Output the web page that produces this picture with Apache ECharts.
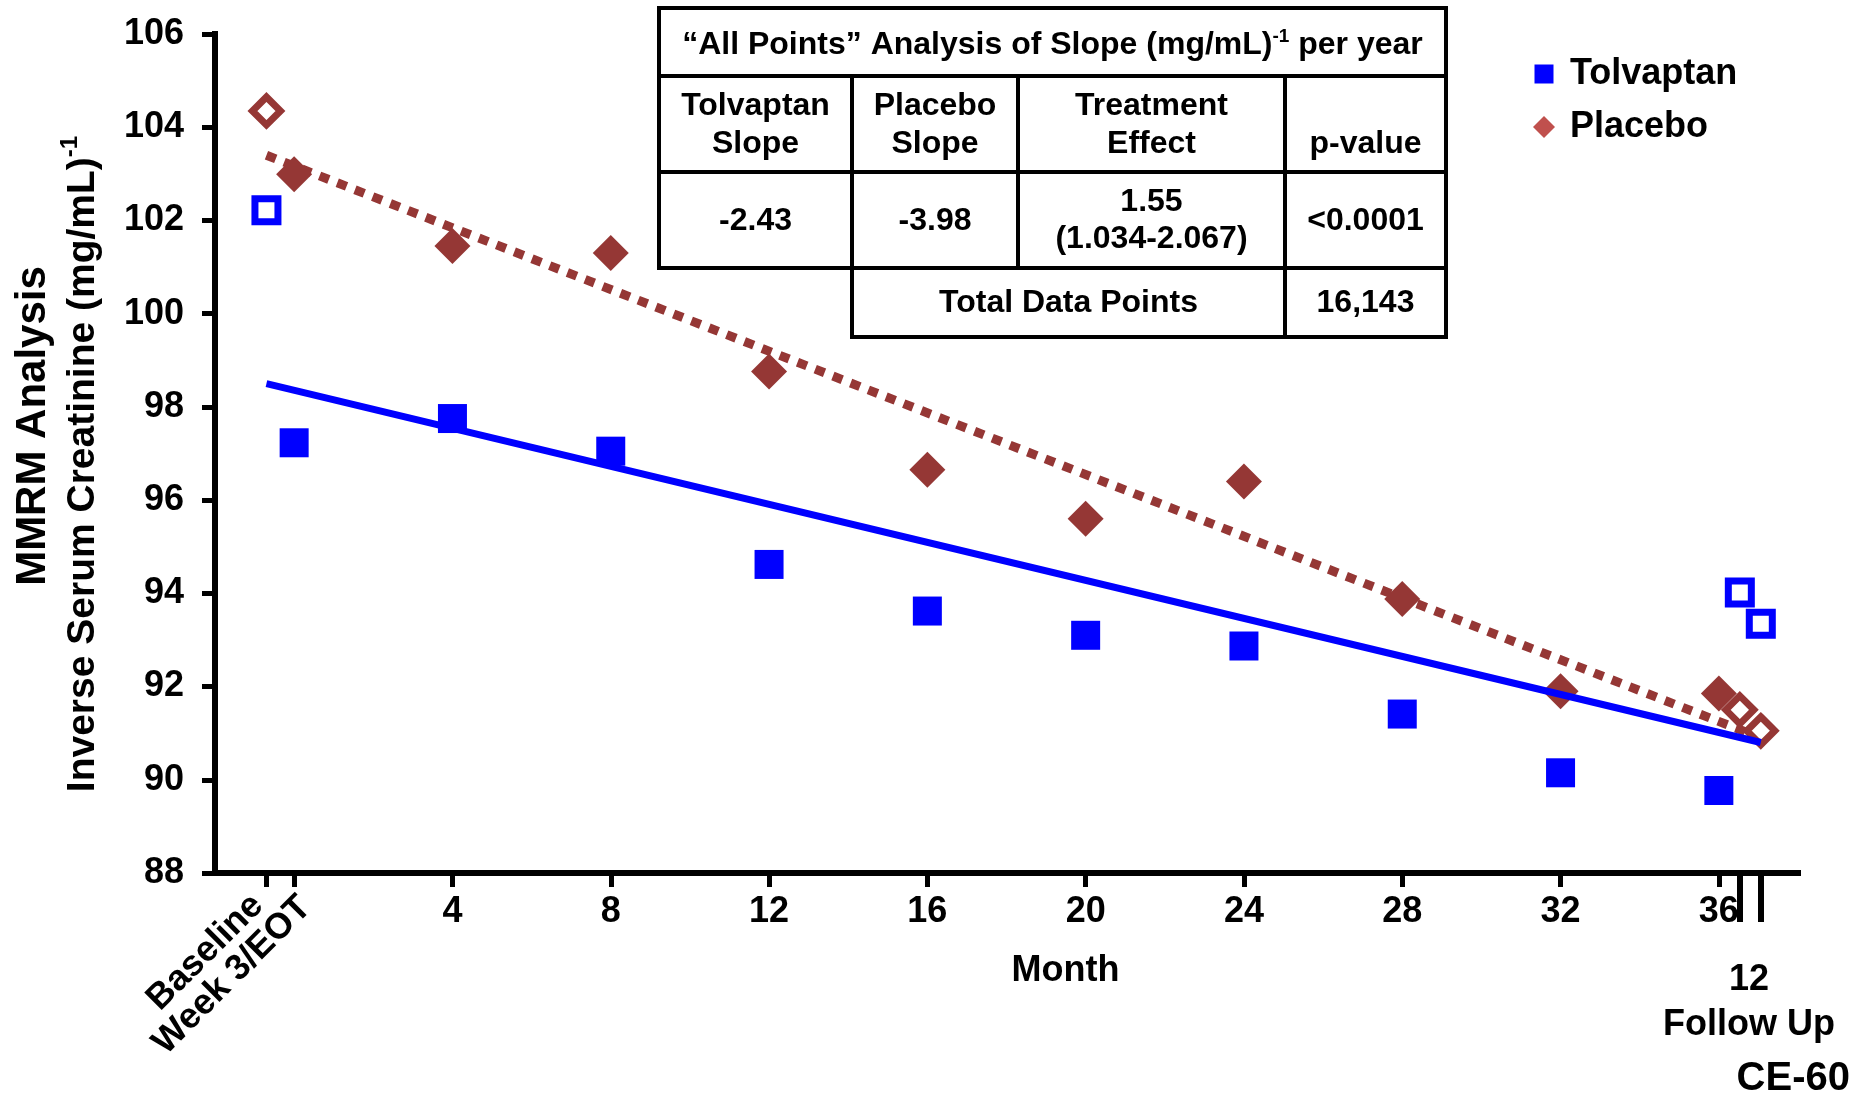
<!DOCTYPE html>
<html>
<head>
<meta charset="utf-8">
<script src="https://cdn.jsdelivr.net/npm/echarts@6/dist/echarts.min.js"></script>
<style>
html,body{margin:0;padding:0;background:#fff;}
#chart{width:1874px;height:1094px;}
</style>
</head>
<body>
<div id="chart"></div>
<script>
// ---------- data ----------
const monthTicks = [4, 8, 12, 16, 20, 24, 28, 32, 36];
const startTicks = [-0.7, 0];
const startLabels = ['Baseline', 'Week 3/EOT'];
const followUpTicks = [36.53, 37.06];
const followUpLabel = '12\nFollow Up';

const tolvaptanMonths = [0, 4, 8, 12, 16, 20, 24, 28, 32, 36];
const tolvaptanValues = [97.23, 97.75, 97.05, 94.62, 93.62, 93.10, 92.87, 91.41, 90.15, 89.77];
const tolvaptanOpenMonths = [-0.7, 36.53, 37.06];
const tolvaptanOpenValues = [102.22, 94.02, 93.35];

const placeboMonths = [0, 4, 8, 12, 16, 20, 24, 28, 32, 36];
const placeboValues = [102.99, 101.45, 101.30, 98.76, 96.65, 95.60, 96.40, 93.88, 91.90, 91.85];
const placeboOpenMonths = [-0.7, 36.53, 37.06];
const placeboOpenValues = [104.35, 91.50, 91.05];

const tolvaptanTrendMonths = [-0.7, 37.06];
const tolvaptanTrendValues = [98.5, 90.8];
const placeboTrendMonths = [-0.7, 37.06];
const placeboTrendValues = [103.4, 90.9];

const yTitleLines = ['MMRM Analysis', 'Inverse Serum Creatinine (mg/mL)', '-1'];
const tableTitle = ['\u201CAll Points\u201D Analysis of Slope (mg/mL)', '-1', ' per year'];
const tableHeaders = ['Tolvaptan\nSlope', 'Placebo\nSlope', 'Treatment\nEffect', 'p-value'];
const tableValues = ['-2.43', '-3.98', '1.55\n(1.034-2.067)', '<0.0001'];
const totalLabel = 'Total Data Points';
const totalValue = '16,143';

// ---------- helpers ----------
const FF = '"Liberation Sans", Arial, Helvetica, sans-serif';
const zip = (xs, ys) => xs.map((x, i) => [x, ys[i]]);
const bold = (size, extra) => Object.assign({fontFamily: FF, fontWeight: 'bold', fontSize: size, color: '#000'}, extra || {});

// ---------- table (annotation) ----------
const tX = [659, 852, 1018, 1285, 1446];
const tY = [8, 76, 172, 268, 337];
const lineStyle = {stroke: '#000', lineWidth: 4, fill: null};
const tbl = [];
tbl.push({type: 'rect', shape: {x: tX[0], y: tY[0], width: tX[4] - tX[0], height: tY[3] - tY[0]}, style: lineStyle});
tbl.push({type: 'rect', shape: {x: tX[1], y: tY[3], width: tX[4] - tX[1], height: tY[4] - tY[3]}, style: lineStyle});
[tY[1], tY[2]].forEach(y => tbl.push({type: 'line', shape: {x1: tX[0], y1: y, x2: tX[4], y2: y}, style: lineStyle}));
[tX[1], tX[2], tX[3]].forEach(x => tbl.push({type: 'line', shape: {x1: x, y1: tY[1], x2: x, y2: tY[3]}, style: lineStyle}));
tbl.push({type: 'line', shape: {x1: tX[3], y1: tY[3], x2: tX[3], y2: tY[4]}, style: lineStyle});
const txt = (x, y, text, extra) => ({
  type: 'text', x: x, y: y,
  style: Object.assign({text: text, fill: '#000', font: 'bold 32px ' + FF, align: 'center', verticalAlign: 'middle', lineHeight: 38}, extra || {})
});
tbl.push({
  type: 'text', x: (tX[0] + tX[4]) / 2, y: 45,
  style: {
    text: '{m|' + tableTitle[0] + '}{s|' + tableTitle[1] + '}{m|' + tableTitle[2] + '}',
    align: 'center', verticalAlign: 'middle',
    rich: {
      m: {fontFamily: FF, fontWeight: 'bold', fontSize: 32, fill: '#000', lineHeight: 36, verticalAlign: 'middle'},
      s: {fontFamily: FF, fontWeight: 'bold', fontSize: 19, fill: '#000', lineHeight: 19, verticalAlign: 'top'}
    }
  }
});
const colC = [0, 1, 2, 3].map(i => (tX[i] + tX[i + 1]) / 2);
tbl.push(txt(colC[0], 125, tableHeaders[0]));
tbl.push(txt(colC[1], 125, tableHeaders[1]));
tbl.push(txt(colC[2], 125, tableHeaders[2]));
tbl.push(txt(colC[3], 144, tableHeaders[3]));
tbl.push(txt(colC[0], 221, tableValues[0]));
tbl.push(txt(colC[1], 221, tableValues[1]));
tbl.push(txt(colC[2], 221, tableValues[2], {lineHeight: 37}));
tbl.push(txt(colC[3], 221, tableValues[3]));
tbl.push(txt((tX[1] + tX[3]) / 2, 303, totalLabel));
tbl.push(txt(colC[3], 303, totalValue));

// ---------- chart ----------
const chart = echarts.init(document.getElementById('chart'), null, {renderer: 'canvas'});
const xBase = {type: 'value', min: -2, max: 38, position: 'bottom', splitLine: {show: false}};
const hiddenLine = {axisLine: {show: false, onZero: false}, axisTick: {show: false}};
const option = {
  backgroundColor: '#fff',
  animation: false,
  textStyle: {fontFamily: FF},
  title: {text: 'CE-60', right: 24, top: 1059, padding: 0, textStyle: bold(40)},
  legend: {
    orient: 'vertical', left: 1533, top: 56, padding: 0,
    itemWidth: 42, itemHeight: 22, itemGap: 17, selectedMode: false,
    textStyle: bold(36),
    data: [
      {name: 'Tolvaptan', icon: 'path://M0,0M22,22M1.5,1.5L20.5,1.5L20.5,20.5L1.5,20.5Z', itemStyle: {color: '#0000FF'}},
      {name: 'Placebo', icon: 'path://M11,0L22,11L11,22L0,11Z', itemStyle: {color: '#C0504D'}}
    ]
  },
  grid: {left: 215, right: 76, top: 34, bottom: 221, containLabel: false},
  xAxis: [
    Object.assign({}, xBase, {
      axisLine: {show: true, onZero: false, lineStyle: {color: '#000', width: 6, cap: 'square'}},
      axisTick: {show: true, customValues: startTicks.concat(monthTicks), length: 14, lineStyle: {color: '#000', width: 5}},
      axisLabel: Object.assign(bold(36), {customValues: monthTicks, margin: 21, hideOverlap: false}),
      name: 'Month', nameLocation: 'middle', nameGap: 80,
      nameTextStyle: bold(36, {padding: [0, 0, 0, 118]})
    }),
    Object.assign({}, xBase, hiddenLine, {
      axisLabel: Object.assign(bold(36), {
        customValues: [-0.92], rotate: 45, margin: 27, hideOverlap: false, showMinLabel: true, showMaxLabel: true,
        formatter: () => startLabels[0]
      })
    }),
    Object.assign({}, xBase, hiddenLine, {
      axisLabel: Object.assign(bold(36), {
        customValues: [0.29], rotate: 45, margin: 29, hideOverlap: false, showMinLabel: true, showMaxLabel: true,
        formatter: () => startLabels[1]
      })
    }),
    Object.assign({}, xBase, {
      axisLine: {show: false, onZero: false},
      axisTick: {show: true, customValues: followUpTicks, length: 49, lineStyle: {color: '#000', width: 6}},
      axisLabel: Object.assign(bold(36), {customValues: [36.76], margin: 85, lineHeight: 45, hideOverlap: false, formatter: () => followUpLabel})
    })
  ],
  yAxis: {
    type: 'value', min: 88, max: 106, interval: 2,
    axisLine: {show: true, onZero: false, lineStyle: {color: '#000', width: 6, cap: 'square'}},
    axisTick: {show: true, length: 13, lineStyle: {color: '#000', width: 5}},
    axisLabel: Object.assign(bold(36), {margin: 31}),
    splitLine: {show: false},
    name: '{a|' + yTitleLines[0] + '}\n{b|' + yTitleLines[1] + '}{s|' + yTitleLines[2] + '}',
    nameLocation: 'middle', nameGap: 107, nameRotate: 90,
    nameTextStyle: {
      padding: [0, 0, 0, 55],
      rich: {
        a: {fontFamily: FF, fontWeight: 'bold', fontSize: 42, color: '#000', lineHeight: 50},
        b: {fontFamily: FF, fontWeight: 'bold', fontSize: 39, color: '#000', lineHeight: 50},
        s: {fontFamily: FF, fontWeight: 'bold', fontSize: 24, color: '#000', lineHeight: 24, verticalAlign: 'top', padding: [0, 76, 0, 0]}
      }
    }
  },
  graphic: {elements: tbl},
  series: [
    {name: 'Placebo trend', type: 'line', data: zip(placeboTrendMonths, placeboTrendValues), symbol: 'none', silent: true, z: 1,
     lineStyle: {color: '#953735', width: 9, type: [10, 9], cap: 'butt', opacity: 1}},
    {name: 'Placebo', type: 'scatter', data: zip(placeboMonths, placeboValues), symbol: 'diamond', symbolSize: 36, z: 2,
     itemStyle: {color: '#953735', opacity: 1}},
    {name: 'Placebo follow-up', type: 'scatter', data: zip(placeboOpenMonths, placeboOpenValues), symbol: 'diamond', symbolSize: 28, z: 2,
     itemStyle: {color: '#fff', borderColor: '#953735', borderWidth: 7, opacity: 1}},
    {name: 'Tolvaptan trend', type: 'line', data: zip(tolvaptanTrendMonths, tolvaptanTrendValues), symbol: 'none', silent: true, z: 3,
     lineStyle: {color: '#0000FF', width: 7, opacity: 1}},
    {name: 'Tolvaptan', type: 'scatter', data: zip(tolvaptanMonths, tolvaptanValues), symbol: 'rect', symbolSize: 29, z: 4,
     itemStyle: {color: '#0000FF', opacity: 1}},
    {name: 'Tolvaptan follow-up', type: 'scatter', data: zip(tolvaptanOpenMonths, tolvaptanOpenValues), symbol: 'rect', symbolSize: 23, z: 4,
     itemStyle: {color: '#fff', borderColor: '#0000FF', borderWidth: 7, opacity: 1}}
  ]
};
chart.setOption(option);
</script>
</body>
</html>
